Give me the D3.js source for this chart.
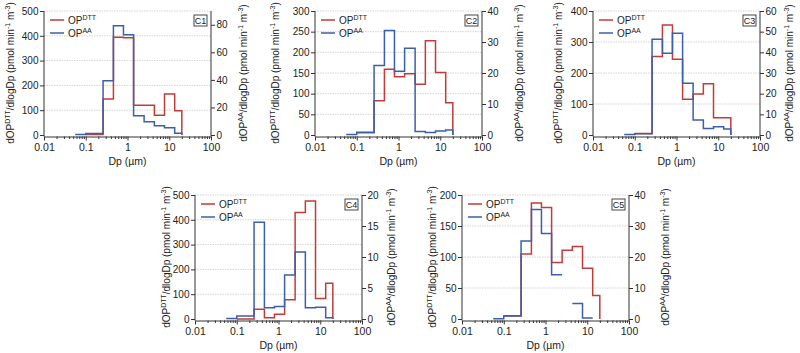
<!DOCTYPE html>
<html>
<head>
<meta charset="utf-8">
<script src="https://cdn.jsdelivr.net/npm/d3@7"></script>
<style>
  body { margin: 0; background: #fff; }
  text { font-family: "Liberation Sans", Arial, sans-serif; fill: #222; }
</style>
</head>
<body>
<svg id="chart" width="800" height="353"></svg>
<script>
// Data: impactor stage edges (µm) and step values per stage (last value = value at final edge)
const edges = [0.056, 0.1, 0.26, 0.46, 0.8, 1.4, 2.5, 4.4, 7.7, 13.5, 20];
const panelNames = ["C1", "C2", "C3", "C4", "C5"];

const dttC1 = [NaN, 2, 145, 394, 392, 120, 120, 80, 165, 98, 0];
const aaC1 = [0.4, 1, 39.3, 79.3, 72.7, 14, 9.7, 6.8, 5.3, 1.2, 0];
const dttC2 = [NaN, 5.6, 83, 159, 141, 148, 123, 228, 151, 78, 0];
const aaC2 = [0.2, 0.9, 22.4, 33.7, 20.6, 28, 1.1, 0.8, 1.3, 1.6, 0];
const dttC3 = [NaN, 5, 253, 355, 244, 115, 132, 165, 56, 56, 0];
const aaC3 = [0.3, 0.6, 46.3, 39.5, 49.2, 25, 7.3, 3.2, 4, 2.9, 0];
const dttC4 = [NaN, 0, 39, 5, 19, 78, 429, 476, 83, 144, 0];
const aaC4 = [0.1, 0.5, 15.6, 1.8, 2.0, 7.1, 10.8, 1.8, 1.9, 0.2, 0];
const dttC5 = [NaN, 5.4, 105, 187, 180, 91, 111, 117, 82, 38, 0];
const aaC5 = [0.1, 1, 25.2, 35.3, 27.6, 14.3, NaN, 5, 0.3, NaN, NaN];

const dttSeries = [dttC1, dttC2, dttC3, dttC4, dttC5];
const aaSeries = [aaC1, aaC2, aaC3, aaC4, aaC5];

// Axis ranges
const leftMax = [500, 300, 400, 500, 200];
const leftStep = [100, 50, 100, 100, 50];
const rightMax = [90, 40, 60, 20, 40];
const rightStep = [20, 10, 10, 5, 10];
const xMajor = [0.01, 0.1, 1, 10, 100];
const xTickLabels = ["0.01", "0.1", "1", "10", "100"];

// Layout
const plotW = 167;
const plotH = 124;
const layout = [
  { x: 44, y: 11, lt: 10, rt: 243 },
  { x: 315, y: 11, lt: 275, rt: 519 },
  { x: 593, y: 11, lt: 558, rt: 789 },
  { x: 195, y: 195, lt: 166, rt: 391 },
  { x: 462, y: 195, lt: 432, rt: 665 },
];
const redColor = "#c03c3a";
const blueColor = "#3a5fab";
const axisColor = "#333";

const svg = d3.select("#chart");

// Turn bin values into step points (horizontal per bin, gaps for missing bins)
function stepPoints(vals) {
  const pts = [];
  for (let i = 0; i < edges.length - 1; i++) {
    const v = vals[i];
    if (isNaN(v)) {
      pts.push([edges[i], NaN]);
    } else {
      pts.push([edges[i], v]);
      pts.push([edges[i + 1], v]);
    }
  }
  pts.push([edges[edges.length - 1], vals[edges.length - 1]]);
  return pts;
}

function addRichText(sel, parts, supSize) {
  parts.forEach(([txt, sup], i) => {
    const t = sel.append("tspan").text(txt);
    if (sup) t.attr("dy", -4).attr("font-size", supSize);
    else if (i > 0 && parts[i - 1][1]) t.attr("dy", 4);
  });
}

panelNames.forEach((name, p) => {
  const L = layout[p];
  const g = svg.append("g").attr("transform", `translate(${L.x},${L.y})`);

  const x = d3.scaleLog().domain([0.01, 100]).range([0, plotW]);
  const yL = d3.scaleLinear().domain([0, leftMax[p]]).range([plotH, 0]);
  const yR = d3.scaleLinear().domain([0, rightMax[p]]).range([plotH, 0]);
  const leftTicks = d3.range(0, leftMax[p] + 1e-9, leftStep[p]);
  const rightTicks = d3.range(0, rightMax[p] + 1e-9, rightStep[p]);

  // gridlines
  g.append("g")
    .selectAll("line")
    .data(leftTicks.filter((d) => d > 0))
    .join("line")
    .attr("x1", 0)
    .attr("x2", plotW)
    .attr("y1", (d) => yL(d))
    .attr("y2", (d) => yL(d))
    .attr("stroke", "#cfcfcf")
    .attr("stroke-width", 0.9)
    .attr("stroke-dasharray", "1.5,1");

  // step lines
  const lineL = d3
    .line()
    .defined((d) => !isNaN(d[1]))
    .x((d) => x(d[0]))
    .y((d) => yL(d[1]));
  const lineR = d3
    .line()
    .defined((d) => !isNaN(d[1]))
    .x((d) => x(d[0]))
    .y((d) => yR(d[1]));

  g.append("path")
    .attr("d", lineL(stepPoints(dttSeries[p])))
    .attr("fill", "none")
    .attr("stroke", redColor)
    .attr("stroke-width", 1.5);
  g.append("path")
    .attr("d", lineR(stepPoints(aaSeries[p])))
    .attr("fill", "none")
    .attr("stroke", blueColor)
    .attr("stroke-width", 1.5);

  // axes
  const axisY = plotH + 1.5;
  const leftAxis = g
    .append("g")
    .call(d3.axisLeft(yL).tickValues(leftTicks).tickSize(4).tickSizeOuter(0).tickPadding(1.5));
  const rightAxis = g
    .append("g")
    .attr("transform", `translate(${plotW},0)`)
    .call(d3.axisRight(yR).tickValues(rightTicks).tickSize(4).tickSizeOuter(0).tickPadding(1.5));
  [leftAxis, rightAxis].forEach((a) => {
    a.select(".domain").attr("d", `M0,0V${axisY}`).attr("stroke", axisColor);
    a.selectAll(".tick line").attr("stroke", axisColor);
    a.selectAll(".tick text").attr("font-size", 10).attr("font-family", null).attr("fill", "#222");
  });

  const minor = [];
  for (let e = -2; e < 2; e++) for (let k = 2; k <= 9; k++) minor.push(k * Math.pow(10, e));
  const bottomAxis = g
    .append("g")
    .attr("transform", `translate(0,${axisY})`)
    .call(
      d3
        .axisBottom(x)
        .tickValues(xMajor.concat(minor))
        .tickSize(4)
        .tickSizeOuter(0)
        .tickPadding(3)
        .tickFormat((d) => {
          const i = xMajor.findIndex((m) => Math.abs(m - d) < 1e-9);
          return i >= 0 ? xTickLabels[i] : "";
        })
    );
  bottomAxis.select(".domain").attr("stroke", axisColor);
  bottomAxis
    .selectAll(".tick line")
    .attr("stroke", axisColor)
    .attr("y2", (d) => (xMajor.some((m) => Math.abs(m - d) < 1e-9) ? 4 : 2.5));
  bottomAxis.selectAll(".tick text").attr("font-size", 10.5).attr("font-family", null).attr("fill", "#222");

  // axis titles
  g.append("text")
    .attr("x", plotW / 2)
    .attr("y", plotH + 30)
    .attr("text-anchor", "middle")
    .attr("font-size", 10.5)
    .text("Dp (µm)");

  const lt = g
    .append("text")
    .attr("transform", `translate(${L.lt - L.x},${plotH / 2}) rotate(-90)`)
    .attr("text-anchor", "middle")
    .attr("dy", "0.35em")
    .attr("font-size", 10);
  addRichText(lt, [["dOP"], ["DTT", 1], ["/dlogDp (pmol min"], ["-1", 1], [" m"], ["-3", 1], [")"]], 7);

  const rt = g
    .append("text")
    .attr("transform", `translate(${L.rt - L.x},${plotH / 2}) rotate(-90)`)
    .attr("text-anchor", "middle")
    .attr("dy", "0.35em")
    .attr("font-size", 10);
  addRichText(rt, [["dOP"], ["AA", 1], ["/dlogDp (pmol min"], ["-1", 1], [" m"], ["-3", 1], [")"]], 7);

  // legend
  const legend = [
    ["DTT", redColor, 9],
    ["AA", blueColor, 22],
  ];
  legend.forEach(([lab, col, ly]) => {
    g.append("line")
      .attr("x1", 6)
      .attr("x2", 20)
      .attr("y1", ly)
      .attr("y2", ly)
      .attr("stroke", col)
      .attr("stroke-width", 1.5);
    const t = g.append("text").attr("x", 24).attr("y", ly + 3.5).attr("font-size", 10);
    addRichText(t, [["OP"], [lab, 1]], 7);
  });

  // panel label box
  g.append("rect")
    .attr("x", plotW - 17)
    .attr("y", 4)
    .attr("width", 13)
    .attr("height", 11)
    .attr("fill", "#fff")
    .attr("stroke", "#333")
    .attr("stroke-width", 0.9);
  g.append("text")
    .attr("x", plotW - 10.5)
    .attr("y", 12.8)
    .attr("text-anchor", "middle")
    .attr("font-size", 9)
    .text(name);
});
</script>
</body>
</html>
